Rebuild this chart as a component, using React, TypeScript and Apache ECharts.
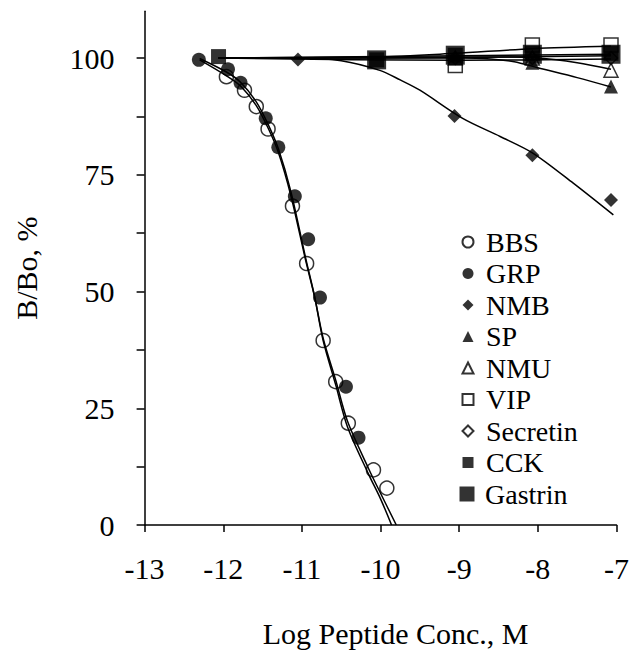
import React, { useEffect, useRef } from 'react';
import * as echarts from 'echarts';

const FONT = 'Liberation Serif';

// x tick labels / y tick labels
const xTicks = [-13, -12, -11, -10, -9, -8, -7];
const yLabelValues = [0, 25, 50, 75, 100];
const yTickValues = [0, 12.5, 25, 37.5, 50, 62.5, 75, 87.5, 100];

const seriesNames = ['BBS', 'GRP', 'NMB', 'SP', 'NMU', 'VIP', 'Secretin', 'CCK', 'Gastrin'];

// measured points [log conc, B/Bo %]
const bbsPoints = [
  [-11.96, 96.0], [-11.73, 93.1], [-11.58, 89.6], [-11.43, 84.8], [-11.12, 68.3],
  [-10.94, 56.0], [-10.73, 39.5], [-10.57, 30.7], [-10.41, 21.8], [-10.09, 11.8], [-9.92, 7.9],
];
const grpPoints = [
  [-12.31, 99.6], [-11.94, 97.6], [-11.78, 94.7], [-11.46, 87.1], [-11.3, 80.9],
  [-11.09, 70.4], [-10.92, 61.2], [-10.77, 48.7], [-10.44, 29.6], [-10.28, 18.7],
];
const nmbPoints = [[-11.05, 99.7], [-9.06, 87.6], [-8.07, 79.2], [-7.07, 69.6]];
const spPoints = [[-9.05, 100.0], [-8.07, 99.0], [-7.07, 93.9]];
const nmuPoints = [[-9.05, 100.0], [-8.07, 100.0], [-7.07, 97.4]];
const vipPoints = [[-9.05, 98.4], [-8.07, 102.8], [-7.07, 102.8]];
const secretinPoints = [[-9.05, 100.0], [-8.07, 100.0], [-7.07, 100.0]];
const cckPoints = [[-12.06, 100.3], [-10.05, 99.6], [-9.05, 100.6], [-8.07, 101.0], [-7.07, 101.0]];
const gastrinPoints = [[-10.05, 99.6], [-9.05, 100.6], [-8.07, 100.8], [-7.07, 100.8]];

// fitted curves
const bbsFit = [
  [-12.3, 99.6], [-11.96, 96.2], [-11.78, 94.0], [-11.58, 89.8], [-11.43, 85.0], [-11.3, 79.8],
  [-11.14, 70.5], [-10.95, 56.5], [-10.84, 49.0], [-10.73, 40.0], [-10.57, 31.0], [-10.42, 22.2],
  [-10.15, 12.0], [-10.0, 6.8], [-9.8, 0],
];
const grpFit = [
  [-12.3, 99.9], [-11.96, 97.0], [-11.78, 94.8], [-11.58, 90.6], [-11.43, 85.8], [-11.3, 80.6],
  [-11.14, 71.4], [-10.95, 57.0], [-10.84, 49.0], [-10.73, 39.5], [-10.57, 30.0], [-10.42, 21.0],
  [-10.15, 10.8], [-10.0, 5.6], [-9.86, 0],
];
const nmbFit = [
  [-12.06, 100], [-11.0, 100], [-10.5, 99.4], [-10.0, 97.3], [-9.75, 95.3], [-9.5, 93.1],
  [-8.95, 87.0], [-8.48, 83.2], [-8.06, 79.6], [-7.55, 73.2], [-7.04, 66.4],
];
const spFit = [[-12.06, 100], [-9.0, 100], [-8.6, 99.8], [-8.3, 99.2], [-8.0, 97.9], [-7.5, 95.8], [-7.07, 93.8]];
const nmuFit = [[-12.06, 100], [-8.5, 100.2], [-8.0, 100.0], [-7.5, 99.0], [-7.07, 97.6]];
const vipFit = [[-12.06, 100], [-10.05, 100.2], [-9.05, 101.0], [-8.07, 102.0], [-7.07, 102.5]];
const secretinFit = [[-12.06, 100], [-9.05, 99.5], [-7.07, 99.8]];
const cckFit = [[-12.06, 100], [-7.07, 100.8]];
const gastrinFit = [[-12.06, 100], [-10.05, 100], [-7.07, 100.5]];

const fitLine = (data: number[][]) => ({
  type: 'line',
  data,
  symbol: 'none',
  smooth: 0.3,
  silent: true,
  lineStyle: { color: '#000', width: 1.5 },
  z: 2,
});

const openStyle = { color: 'rgba(255,255,255,0)', borderColor: '#000', borderWidth: 1.5 };
const filledStyle = { color: '#000', borderColor: '#000', borderWidth: 0 };

const scatter = (name: string, data: number[][], symbol: string, size: number, open: boolean, z = 3) => ({
  type: 'scatter',
  name,
  data,
  symbol,
  symbolSize: size,
  itemStyle: open ? openStyle : filledStyle,
  z,
});

const legendText = (padLeft: number) => ({
  fontFamily: FONT,
  fontSize: 28,
  color: '#000',
  lineHeight: 28,
  padding: [0, 0, 0, padLeft],
});

export default function App() {
  const ref = useRef<HTMLDivElement>(null);
  useEffect(() => {
    const chart = echarts.init(ref.current!, null, { renderer: 'svg' });
    chart.setOption({
      animation: false,
      backgroundColor: '#fff',
      textStyle: { fontFamily: FONT, color: '#000' },
      grid: { left: 144.6, right: 15.3, top: 11.3, bottom: 128 },
      legend: [
        {
          data: seriesNames.slice(0, 8),
          orient: 'vertical',
          left: 456.5,
          top: 223,
          itemWidth: 11,
          itemHeight: 11,
          itemGap: 3.5,
          textStyle: legendText(7.5),
          selectedMode: false,
        },
        {
          data: seriesNames.slice(8),
          orient: 'vertical',
          left: 454.5,
          top: 475,
          itemWidth: 15,
          itemHeight: 15,
          textStyle: legendText(5.5),
          selectedMode: false,
        },
      ],
      xAxis: {
        type: 'value',
        min: xTicks[0],
        max: xTicks[xTicks.length - 1],
        interval: 1,
        name: 'Log Peptide Conc., M',
        nameLocation: 'middle',
        nameGap: 93,
        nameTextStyle: { fontFamily: FONT, fontSize: 30, color: '#000', padding: [0, 0, 0, 30] },
        axisLine: { lineStyle: { color: '#000', width: 1.5 } },
        axisTick: { show: true, length: 7, lineStyle: { color: '#000', width: 1.5 } },
        axisLabel: { fontFamily: FONT, fontSize: 30, color: '#000', margin: 28, formatter: (v: number) => String(v) },
        splitLine: { show: false },
      },
      yAxis: {
        type: 'value',
        min: 0,
        max: 110,
        interval: 12.5,
        name: 'B/Bo, %',
        nameLocation: 'middle',
        nameGap: 103,
        nameTextStyle: { fontFamily: FONT, fontSize: 30, color: '#000' },
        axisLine: { show: true, lineStyle: { color: '#000', width: 1.5 } },
        axisTick: { show: true, length: 8, customValues: yTickValues, lineStyle: { color: '#000', width: 1.5 } },
        axisLabel: {
          fontFamily: FONT,
          fontSize: 30,
          color: '#000',
          margin: 30,
          customValues: yLabelValues,
          formatter: (v: number) => (yLabelValues.includes(v) ? String(v) : ''),
        },
        splitLine: { show: false },
      },
      series: [
        fitLine(grpFit),
        fitLine(bbsFit),
        fitLine(nmbFit),
        fitLine(spFit),
        fitLine(nmuFit),
        fitLine(vipFit),
        fitLine(secretinFit),
        fitLine(cckFit),
        fitLine(gastrinFit),
        scatter('BBS', bbsPoints, 'circle', 14, true),
        scatter('GRP', grpPoints, 'circle', 14, false),
        scatter('NMB', nmbPoints, 'diamond', 14, false),
        scatter('SP', spPoints, 'triangle', 14, false),
        scatter('NMU', nmuPoints, 'triangle', 14, true),
        scatter('VIP', vipPoints, 'rect', 14, true),
        scatter('Secretin', secretinPoints, 'diamond', 13, true),
        scatter('CCK', cckPoints, 'rect', 15, false, 4),
        scatter('Gastrin', gastrinPoints, 'rect', 19, false, 5),
      ],
    });
    return () => chart.dispose();
  }, []);
  return (
    <div
      ref={ref}
      style={{ position: 'fixed', left: 0, top: 0, width: 632, height: 653, background: '#fff' }}
    />
  );
}
